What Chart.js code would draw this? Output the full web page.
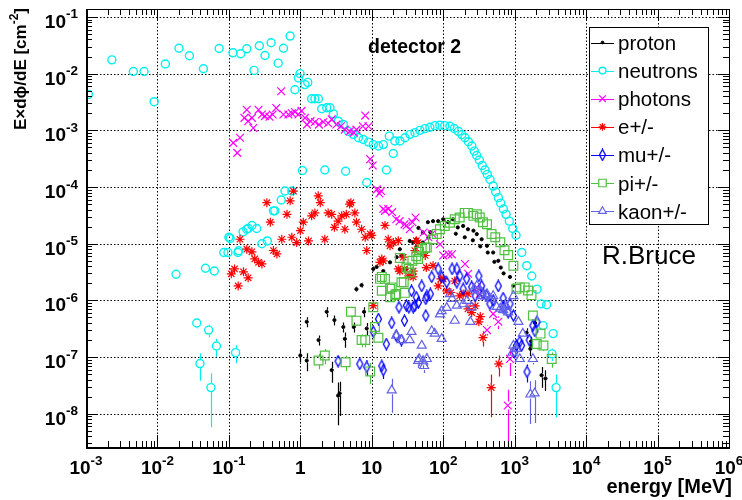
<!DOCTYPE html>
<html>
<head>
<meta charset="utf-8">
<script src="https://cdn.jsdelivr.net/npm/chart.js@4.4.1/dist/chart.umd.min.js"></script>
<style>
  html, body { margin: 0; padding: 0; background: #fff; }
  canvas { display: block; }
</style>
</head>
<body>
<canvas id="spectrum" width="742" height="500"></canvas>
<script>
// E dphi/dE per particle type, detector 2 — points are [energy MeV, value, relative error]
const proton = [
  [1.0,1.07e-7,0.25],[1.23,8.7e-8,0.35],[1.23,4.2e-7,0.2],[1.8,2.0e-7,0.2],[2.34,6.3e-7,0.2],[2.75,5.9e-8,0.4],
  [3.0,4.5e-7,0.2],[3.38,2.1e-8,0.7],[3.55,2.3e-8,0.6],[4.0,3.4e-7,0.2],[4.2,2.1e-7,0.3],[5.6,3.4e-7,0.2],
  [6.1,1.58e-6,0.1],[7.2,1.86e-6,0.1],[7.8,6.3e-7,0.2],[8.5,3.2e-7,0.25],[10.5,3.6e-6,0.1],[11.7,3.9e-6],
  [13.8,5.0e-6],[14.5,3.3e-6],[18,4.7e-6],[22.3,5.8e-6],[24.7,8.0e-6],[26,6.2e-6],[30.5,3.6e-6],[34,1.12e-5],
  [38,1.05e-5],[42,8.7e-6],[42,1.2e-5],[45,1.9e-5],[52,1.05e-5],[52,1.58e-5],[61,2.4e-5],[62,1.28e-5],
  [66,1.6e-5],[72,2.5e-5],[85,2.5e-5],[100,2.7e-5],[117,2.4e-5],[137,2.7e-5],[150,1.5e-5],[160,1.94e-5],
  [190,2.06e-5],[200,1.3e-5],[222,1.8e-5],[260,1.15e-5],[265,1.7e-5],[295,1.48e-5],[330,9.0e-6],[345,1.2e-5],
  [410,9.2e-6],[420,7.0e-6],[500,7.0e-6],[520,4.8e-6],[590,5.0e-6],[640,3.8e-6],[700,3.0e-6],[860,2.6e-6],
  [960,1.82e-6],[1470,2.7e-7,0.2],[1660,1.4e-7,0.25],[1700,1.9e-7,0.2],[1930,4.0e-7,0.15],[2380,4.8e-8,0.4],
  [2700,4.2e-8,0.4]
];
const neutrons = [
  [1.08e-3,4.3e-3,0.1],[2.3e-3,1.75e-2],[4.6e-3,1.09e-2],[6.5e-3,1.09e-2],[9.0e-3,3.2e-3],[1.29e-2,1.48e-2],
  [2.0e-2,2.8e-2],[2.8e-2,2.07e-2],[4.4e-2,1.22e-2],[7.3e-2,2.77e-2],[0.114,2.33e-2],[0.146,2.24e-2],
  [0.178,2.74e-2],[0.225,1.14e-2],[0.267,3.1e-2],[0.32,2.09e-2],[0.39,3.5e-2],[0.49,1.53e-2],[0.58,2.8e-2],
  [0.72,4.6e-2],[0.84,5.2e-3],[0.94,8.4e-3],[0.99,1.0e-2],[1.16,6.4e-3],[1.27,7.0e-3],[1.44,3.6e-3],
  [1.6,3.6e-3],[1.79,3.6e-3],[1.99,2.4e-3],[2.34,2.5e-3],[2.6,2.5e-3],[2.9,1.95e-3],[3.4,1.45e-3],
  [4.0,1.27e-3],[4.7,9.6e-4],[5.5,8.5e-4],[6.5,7.4e-4],[7.6,6.9e-4],[9.0,6.2e-4],[10.5,5.6e-4],[12.4,5.3e-4],
  [14.5,5.6e-4],[17.6,7.9e-4],[20,3.9e-4],[21,6.5e-4],[24.8,6.5e-4],[29.2,7.4e-4],[34.2,8.5e-4],[40.2,9.1e-4],
  [47.2,1.0e-3],[55.4,1.07e-3],[65,1.13e-3],[76.4,1.21e-3],[89.7,1.23e-3],[105,1.21e-3],[124,1.18e-3],
  [142,1.08e-3],[163,9.6e-4],[182,8.4e-4],[202,7.4e-4],[225,6.3e-4],[251,5.3e-4],[272,4.3e-4],[294,3.6e-4],
  [320,3.0e-4],[352,2.4e-4],[385,2.0e-4],[414,1.67e-4],[452,1.36e-4],[502,1.04e-4],[543,8.2e-5],[591,6.5e-5],
  [638,5.2e-5],[695,4.1e-5],[758,3.3e-5],[842,2.5e-5],[940,1.86e-5],[1045,1.41e-5],[1256,7.0e-6],
  [1475,4.1e-6],[1733,2.7e-6],[2057,1.58e-6],[2340,8.7e-7],[2800,8.4e-7],[2500,3.6e-7,0.15],
  [3460,2.6e-7,0.15],[3330,1.14e-7,0.25],[3800,2.9e-8,0.7],
  [1.07,1.96e-4],[2.2,2.0e-4],[4.3,1.9e-4],[8.5,1.2e-4],[16,2.0e-4],
  [0.085,7.0e-6],[0.097,7.0e-6],[0.1,1.3e-5],[0.104,1.24e-5],[0.134,7.0e-6],[0.137,7.5e-6],[0.158,1.62e-5],
  [0.178,1.8e-5],[0.187,1.86e-5],[0.21,2.1e-5],[0.245,1.86e-5],[0.29,1.0e-5],[0.345,1.12e-5],[0.42,3.8e-5],
  [0.44,3.8e-5],[0.54,5.9e-5],[0.61,8.5e-5],[0.76,8.5e-5],
  [1.82e-2,2.9e-6,0.15],[3.55e-2,4.0e-7,0.2],[3.94e-2,7.7e-8,0.5],[4.7e-2,3.7e-6,0.1],[5.2e-2,3.0e-7,0.25],
  [5.6e-2,2.9e-8,0.8],[6.25e-2,3.3e-6,0.1],[6.7e-2,1.57e-7,0.35],[0.124,1.2e-7,0.35]
];
const photons = [
  [0.115,6.0e-4],[0.131,4.0e-4],[0.143,7.4e-4],[0.165,1.66e-3],[0.178,2.3e-3],[0.186,1.45e-3],[0.21,1.66e-3],
  [0.22,1.1e-3],[0.26,2.3e-3],[0.29,1.9e-3],[0.32,1.78e-3],[0.37,1.74e-3],[0.41,1.9e-3],[0.46,2.47e-3],
  [0.54,4.9e-3],[0.58,1.9e-3],[0.68,1.9e-3],[0.76,2.0e-3],[0.84,2.1e-3],[0.94,1.9e-3],[1.04,2.2e-3],
  [1.16,1.66e-3],[1.24,1.26e-3],[1.39,1.45e-3],[1.6,1.4e-3],[1.82,1.26e-3],[2.1,1.4e-3],[2.45,1.33e-3],
  [2.75,1.56e-3],[3.2,1.27e-3],[3.7,1.18e-3],[4.2,1.03e-3],[4.9,9.6e-4],[5.6,9.1e-4],[6.1,1.03e-3],
  [7.5,1.18e-3],[8.1,1.82e-3],[9.0,1.18e-3],[9.5,3.1e-4],[10.3,2.4e-4],[11.8,9.1e-5],[12.8,7.7e-5],
  [13.5,8.5e-5],[14.5,4.1e-5],[15.3,3.8e-5],[17,4.1e-5],[19.3,3.6e-5],[22,2.7e-5],[24.5,2.5e-5],[28.7,2.2e-5],
  [30.7,2.1e-5],[34,1.8e-5],[37,2.4e-5],[41,2.9e-5],[53,1.58e-5],[62,1.3e-5],[70,1.5e-5],[90,9.8e-6],
  [100,6.2e-6],[118,6.5e-6],[132,6.5e-6],[202,4.4e-6],[223,2.95e-6],[294,1.7e-6],[325,1.3e-6,0.2],
  [410,3.0e-7,0.2],[500,5.8e-7,0.2],[590,4.2e-7,0.25],[860,9.3e-8,0.5],[800,1.4e-8,0.9]
];
const electrons = [
  [0.108,2.95e-6],[0.12,3.6e-6],[0.135,1.8e-6],[0.143,1.2e-5],[0.16,3.2e-6],[0.178,8.0e-6],[0.186,2.5e-6],
  [0.21,7.2e-6],[0.23,5.4e-6],[0.26,4.7e-6],[0.29,4.4e-6],[0.34,5.3e-5],[0.38,2.4e-5],[0.42,7.6e-6],
  [0.47,6.6e-6],[0.55,1.2e-5],[0.65,3.3e-5],[0.72,5.7e-5],[0.76,1.3e-5],[0.8,8.5e-5],[0.89,1.05e-5],
  [1.0,1.7e-5],[1.1,2.4e-5],[1.3,1.12e-5],[1.44,3.1e-5],[1.6,3.5e-5],[1.78,7.0e-5],[1.9,5.3e-5],[2.2,1.2e-5],
  [2.45,3.5e-5],[2.75,3.3e-5],[3.0,1.95e-5],[3.38,2.5e-5],[3.8,3.1e-5],[4.2,1.8e-5],[4.4,3.3e-5],[4.9,5.0e-5],
  [5.1,5.3e-5],[5.8,3.5e-5],[6.1,2.4e-5],[7.2,1.8e-5],[8.1,1.3e-5],[8.5,7.6e-6],[9.5,1.5e-5],[10,1.4e-5],
  [10.5,8.1e-7,0.15],[13,4.7e-6],[13.8,5.4e-6],[14.5,5.0e-6],[15.3,2.1e-5],[17,1.2e-5],[18,9.2e-6],
  [20,1.05e-5],[23.5,3.6e-6],[23.5,1.13e-5],[24.7,3.3e-6],[27.5,5.8e-6],[28.7,3.6e-6],[33,2.7e-6],[38,3.3e-6],
  [38,2.6e-6],[40,7.6e-6],[42,1.13e-5],[44.6,1.05e-5],[56,6.2e-6],[58,3.8e-6],[72,4.1e-6],[85,1.8e-6],
  [93,2.4e-6],[100,2.4e-6],[112,1.47e-6],[128,1.38e-6],[145,2.2e-6],[170,1.2e-6],[190,1.3e-6],[222,7.1e-7],
  [222,1.3e-6],[250,6.1e-7],[280,8.0e-7],[315,4.2e-7,0.15],[330,5.2e-7,0.15],[360,2.2e-7,0.3],
  [470,2.9e-8,0.7],[600,7.6e-8,0.4]
];
const muons = [
  [3.38,8.5e-8,0.2],[6.8,7.6e-8,0.2],[8.5,6.7e-8,0.3],[10.5,2.8e-7],[12.4,4.7e-7],[13.8,7.0e-8,0.2],
  [14.5,5.9e-8,0.3],[16,1.7e-7],[19,4.0e-7],[22,2.4e-7],[24,7.6e-7],[26,2.0e-7],[28.7,4.4e-7],[30.5,8.1e-7],
  [33,7.6e-7],[36,1.48e-6],[38,7.6e-7],[40,8.0e-7],[42,1.14e-6],[45,9.2e-7],[50,1.8e-6],[57,1.07e-6],
  [57,5.4e-7],[59,1.2e-6],[66,1.3e-6],[69,2.6e-6],[85,3.6e-6],[95,2.6e-6],[112,2.1e-6],[133,3.6e-6],
  [155,3.6e-6],[155,2.1e-6],[171,2.7e-6],[190,1.6e-6],[213,2.4e-6],[250,1.73e-6],[280,1.2e-6],[315,2.7e-6],
  [345,1.8e-6],[360,1.3e-6],[400,1.23e-6],[450,8.7e-7],[500,1.0e-6],[590,1.8e-6],[690,1.1e-6],[690,7.6e-7],
  [810,6.2e-7],[860,8.7e-7],[960,5.4e-7],[1000,1.23e-7],[1060,1.6e-7],[1180,1.86e-7],[1250,1.6e-7],
  [1490,5.5e-8,0.35],[1600,2.0e-7],[1800,3.6e-7],[1920,2.9e-7],[2050,4.2e-7]
];
const pions = [
  [1.8,8.7e-8,0.3],[2.2,1.07e-7,0.3],[4.3,8.1e-8,0.3],[5.1,6.3e-7,0.2],[6.1,4.4e-7,0.2],[7.2,2.0e-7,0.25],
  [8.1,2.0e-7,0.25],[9.5,5.6e-8,0.4],[10.5,7.6e-7],[11.1,3.4e-7],[12.4,2.2e-7],[13,2.4e-6],[13.8,1.48e-6],
  [13.8,2.6e-6],[15.3,2.4e-6],[18,1.14e-6],[18,1.6e-6],[19,1.7e-6],[21.3,1.23e-6],[22,1.3e-6],[24.7,5.6e-6],
  [26,2.1e-6],[28,2.1e-6],[29,1.36e-6],[30.5,3.8e-6],[33,3.6e-6],[34,3.1e-6],[37,5.0e-6],[42,6.0e-6],
  [44.6,5.4e-6],[46,7.2e-6],[50,8.1e-6],[56,8.5e-6],[59,8.6e-6],[72,1.2e-5],[81,1.48e-5],[90,1.8e-5],
  [105,2.06e-5],[124,2.35e-5],[145,2.7e-5],[170,2.9e-5],[200,3.5e-5],[222,3.5e-5],[264,3.1e-5],[295,3.3e-5],
  [325,2.9e-5],[360,2.4e-5],[410,2.2e-5],[475,1.48e-5],[535,1.3e-5],[630,1.06e-5],[720,7.7e-6],[810,6.3e-6],
  [960,4.1e-6],[1060,1.6e-6],[1180,1.7e-6],[1380,1.7e-6],[1540,1.5e-6],[1720,1.24e-6],[1800,5.4e-7,0.15],
  [2040,1.7e-7,0.2],[2300,2.6e-7,0.15],[2530,1.6e-7,0.2],[3300,9.3e-8,0.3]
];
const kaons = [
  [19,2.6e-8,0.6],[22,2.4e-7],[26,2.0e-7],[34,2.0e-7],[36,2.8e-7],[44.6,8.6e-8,0.25],[46,9.3e-8,0.25],
  [50,1.6e-7],[52,8.5e-8,0.25],[54,7.0e-8,0.25],[59,9.3e-8,0.25],[69,2.9e-7],[76,2.6e-7],[90,5.7e-7],
  [95,2.1e-7],[95,6.5e-7],[112,7.4e-7],[124,1.3e-6],[133,1.07e-6],[145,4.4e-7],[155,8.1e-7],[190,8.6e-7],
  [215,9.9e-7],[240,4.2e-7],[250,7.6e-7],[270,1.6e-6],[295,1.8e-6],[330,1.5e-6],[360,1.2e-6],[410,1.3e-6],
  [450,1.07e-6],[500,1.2e-6],[560,7.7e-7],[630,7.2e-7],[690,6.8e-7],[770,7.7e-7],[810,6.2e-7],[930,1.2e-7],
  [960,1.2e-6],[960,1.6e-7],[1060,1.4e-7],[1130,4.2e-7],[1180,9.3e-8],[1300,2.6e-7],[1660,2.2e-8,0.7],
  [1800,9.3e-8,0.2],[1900,2.3e-8,0.7]
];

const xDecades = [-3, -2, -1, 0, 1, 2, 3, 4, 5, 6];
const yDecades = [-8, -7, -6, -5, -4, -3, -2, -1];

const FAM = '"Liberation Sans", Arial, Helvetica, sans-serif';

// open narrow diamond used for the muon markers
function diamondMarker(color) {
  const c = document.createElement('canvas');
  c.width = 9; c.height = 13;
  const g = c.getContext('2d');
  g.strokeStyle = color; g.lineWidth = 1.3;
  g.beginPath();
  g.moveTo(4.5, 1); g.lineTo(7.5, 6.5); g.lineTo(4.5, 12); g.lineTo(1.5, 6.5);
  g.closePath(); g.stroke();
  return c;
}

const series = [
  { label: 'proton',   pts: proton,    color: '#000000', style: 'circle',    r: 1.6, bw: 1,   fill: true,  gap: 2 },
  { label: 'neutrons', pts: neutrons,  color: '#00f0f0', style: 'circle',    r: 4,   bw: 1.4, fill: false, gap: 4.5 },
  { label: 'photons',  pts: photons,   color: '#ff00ff', style: 'crossRot',  r: 5.5, bw: 1.2, fill: false, gap: 4 },
  { label: 'e+/-',     pts: electrons, color: '#ff0000', style: 'star',      r: 4.5, bw: 1.2, fill: false, gap: 4 },
  { label: 'mu+/-',    pts: muons,     color: '#0000ff', style: diamondMarker('#0000ff'), r: 5, bw: 1, fill: false, gap: 5.5 },
  { label: 'pi+/-',    pts: pions,     color: '#4fc040', style: 'rect',      r: 6.2, bw: 1.2, fill: false, gap: 4.5 },
  { label: 'kaon+/-',  pts: kaons,     color: '#6262e6', style: 'triangle',  r: 5.2, bw: 1.2, fill: false, gap: 4 }
];

function superText(ctx, parts, x, y) {
  for (const [t, font, dy] of parts) {
    ctx.font = font;
    ctx.fillText(t, x, y + dy);
    x += ctx.measureText(t).width;
  }
}
function superWidth(ctx, parts) {
  let w = 0;
  for (const [t, font] of parts) { ctx.font = font; w += ctx.measureText(t).width; }
  return w;
}
function powerLabel(e) {
  const big = 'bold 19px ' + FAM, small = 'bold 13.5px ' + FAM;
  if (e === 0) return [['1', big, 0]];
  if (e === 1) return [['10', big, 0]];
  return [['10', big, 0], [String(e), small, -9.5]];
}

const rootStyle = {
  id: 'rootStyle',
  beforeDatasetsDraw(chart) {
    const { ctx, chartArea: a, scales: { x, y } } = chart;
    ctx.save();
    // dotted grid at each decade
    ctx.strokeStyle = '#000';
    ctx.lineWidth = 1;
    ctx.setLineDash([1.5, 2]);
    xDecades.forEach(e => {
      const px = Math.round(x.getPixelForValue(10 ** e)) + 0.5;
      if (px <= a.left + 1 || px >= a.right - 1) return;
      ctx.beginPath(); ctx.moveTo(px, a.top); ctx.lineTo(px, a.bottom); ctx.stroke();
    });
    yDecades.forEach(e => {
      const py = Math.round(y.getPixelForValue(10 ** e)) + 0.5;
      ctx.beginPath(); ctx.moveTo(a.left, py); ctx.lineTo(a.right, py); ctx.stroke();
    });
    ctx.setLineDash([]);

    // vertical error bars, stopping at the marker edge
    ctx.beginPath(); ctx.rect(a.left, a.top, a.right - a.left, a.bottom - a.top); ctx.clip();
    chart.data.datasets.forEach((ds, i) => {
      const meta = chart.getDatasetMeta(i);
      ctx.strokeStyle = ds.borderColor;
      ctx.lineWidth = 1.2;
      ds.data.forEach((d, j) => {
        if (!d.e) return;
        const el = meta.data[j];
        const top = y.getPixelForValue(d.y * (1 + d.e));
        const bot = d.e < 1 ? y.getPixelForValue(d.y * (1 - d.e)) : a.bottom;
        const px = Math.round(el.x) + 0.5;
        ctx.beginPath();
        if (el.y - ds.gap > top) { ctx.moveTo(px, top); ctx.lineTo(px, el.y - ds.gap); }
        if (el.y + ds.gap < bot) { ctx.moveTo(px, el.y + ds.gap); ctx.lineTo(px, bot); }
        ctx.stroke();
      });
    });
    ctx.restore();
  },
  afterDraw(chart) {
    const { ctx, chartArea: a, scales: { x, y } } = chart;
    ctx.save();
    ctx.strokeStyle = '#000';
    ctx.fillStyle = '#000';

    // frame
    ctx.lineWidth = 1;
    ctx.strokeRect(a.left + 0.5, a.top + 0.5, a.right - a.left, a.bottom - a.top);
    ctx.lineWidth = 2;
    ctx.beginPath();
    ctx.moveTo(a.left + 1, a.top); ctx.lineTo(a.left + 1, a.bottom + 1); ctx.lineTo(a.right + 1, a.bottom + 1);
    ctx.stroke();

    // inward ticks on all four sides
    ctx.lineWidth = 1;
    ctx.beginPath();
    for (let e = -3; e <= 6; e++) {
      for (let m = 1; m <= 9; m++) {
        const v = m * 10 ** e;
        if (v < x.min * 0.999 || v > x.max * 1.001) continue;
        const px = Math.round(x.getPixelForValue(v)) + 0.5;
        const len = m === 1 ? 12 : 6;
        ctx.moveTo(px, a.bottom); ctx.lineTo(px, a.bottom - len);
        ctx.moveTo(px, a.top); ctx.lineTo(px, a.top + len);
      }
    }
    for (let e = -9; e <= -1; e++) {
      for (let m = 1; m <= 9; m++) {
        const v = m * 10 ** e;
        if (v < y.min || v > y.max) continue;
        const py = Math.round(y.getPixelForValue(v)) + 0.5;
        const len = m === 1 ? 11 : 6;
        ctx.moveTo(a.left, py); ctx.lineTo(a.left + len, py);
        ctx.moveTo(a.right, py); ctx.lineTo(a.right - len, py);
      }
    }
    ctx.stroke();

    // tick labels
    ctx.textAlign = 'left';
    ctx.textBaseline = 'alphabetic';
    xDecades.forEach(e => {
      const parts = powerLabel(e);
      const w = superWidth(ctx, parts);
      superText(ctx, parts, x.getPixelForValue(10 ** e) - w / 2, a.bottom + 27);
    });
    yDecades.forEach(e => {
      const parts = powerLabel(e);
      const w = superWidth(ctx, parts);
      superText(ctx, parts, a.left - 8 - w, y.getPixelForValue(10 ** e) + 11);
    });

    // axis titles
    ctx.font = 'bold 20px ' + FAM;
    ctx.textAlign = 'right';
    ctx.fillText('energy [MeV]', 732, 493);
    ctx.textAlign = 'left';
    const yTitle = [['E\u00d7d\u03d5/dE [cm', 'bold 17px ' + FAM, 0], ['-2', 'bold 12px ' + FAM, -8], [']', 'bold 17px ' + FAM, 0]];
    ctx.save();
    ctx.translate(26, 8);
    ctx.rotate(-Math.PI / 2);
    superText(ctx, yTitle, -superWidth(ctx, yTitle), 0);
    ctx.restore();

    // title and author
    ctx.font = 'bold 19.5px ' + FAM;
    ctx.fillText('detector 2', 368, 53);
    ctx.font = '26px ' + FAM;
    ctx.fillText('R.Bruce', 602, 264);

    // legend box
    const lx = 589, ly = 27, lw = 119, lh = 197;
    ctx.fillStyle = '#fff';
    ctx.fillRect(lx, ly, lw, lh);
    ctx.strokeStyle = '#000';
    ctx.lineWidth = 1;
    ctx.strokeRect(lx + 0.5, ly + 0.5, lw, lh);
    chart.data.datasets.forEach((ds, i) => {
      const cy = 42.5 + i * 28.1;
      ctx.strokeStyle = ds.borderColor;
      ctx.lineWidth = 1;
      ctx.beginPath(); ctx.moveTo(591, Math.round(cy) + 0.5); ctx.lineTo(614, Math.round(cy) + 0.5); ctx.stroke();
      ctx.fillStyle = ds.backgroundColor === 'rgba(0,0,0,0)' ? '#fff' : ds.backgroundColor;
      ctx.lineWidth = ds.pointBorderWidth;
      Chart.helpers.drawPoint(ctx, {
        pointStyle: ds.pointStyle, radius: ds.pointRadius * 0.85, rotation: 0, borderWidth: ds.pointBorderWidth
      }, 602.5, cy);
      ctx.fillStyle = '#000';
      ctx.font = '20.5px ' + FAM;
      ctx.fillText(ds.label, 618, cy + 7.5);
    });
    ctx.restore();
  }
};

new Chart(document.getElementById('spectrum'), {
  type: 'scatter',
  data: {
    datasets: series.map((s, i) => ({
      label: s.label,
      data: s.pts.map(p => ({ x: p[0], y: p[1], e: p[2] || 0 })),
      pointStyle: s.style,
      pointRadius: s.r,
      pointHoverRadius: s.r,
      pointBorderWidth: s.bw,
      borderColor: s.color,
      backgroundColor: s.fill ? s.color : 'rgba(0,0,0,0)',
      gap: s.gap,
      order: series.length - i
    }))
  },
  options: {
    responsive: false,
    devicePixelRatio: 1,
    animation: false,
    layout: { padding: { left: 86, right: 13, top: 9, bottom: 53 } },
    plugins: { legend: { display: false }, tooltip: { enabled: false } },
    scales: {
      x: { type: 'logarithmic', min: 1e-3, max: 1e6, display: false },
      y: { type: 'logarithmic', min: 2.6e-9, max: 0.138, display: false }
    }
  },
  plugins: [rootStyle]
});
</script>
</body>
</html>
